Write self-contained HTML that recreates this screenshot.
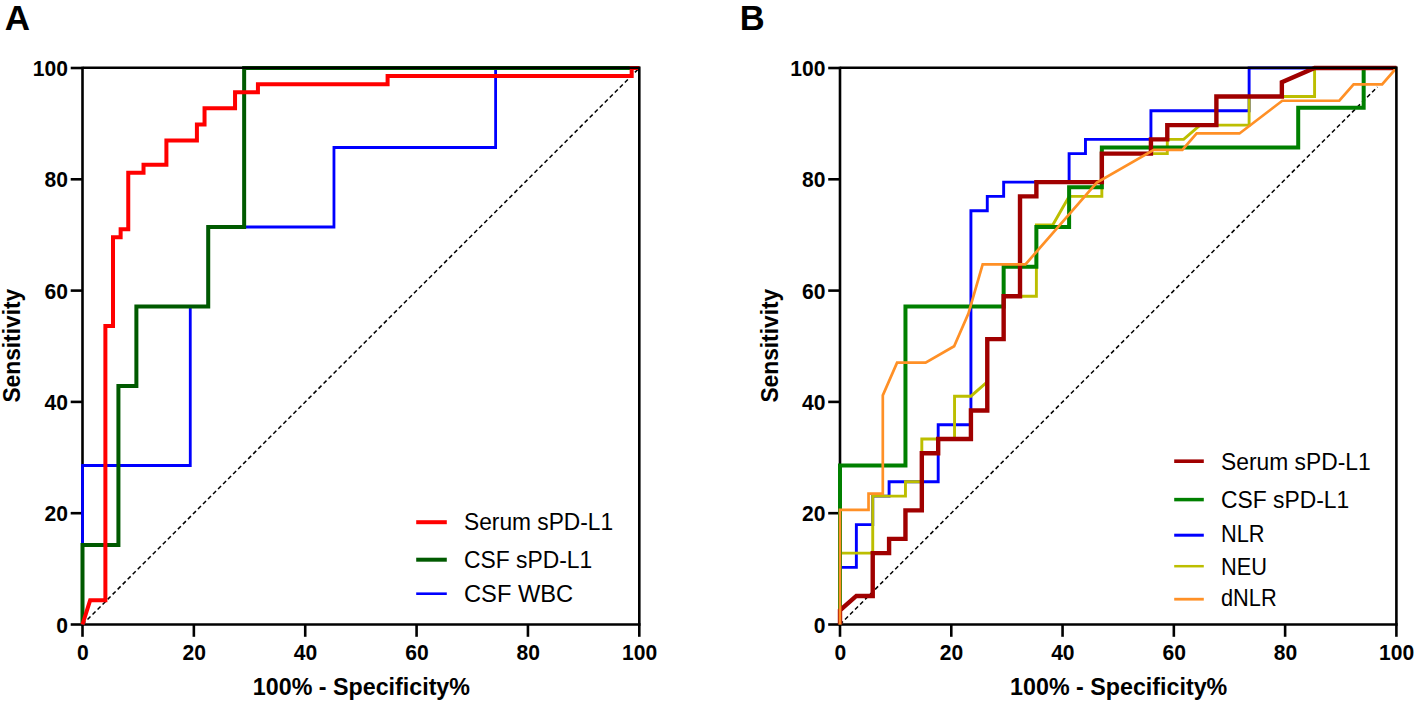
<!DOCTYPE html>
<html><head><meta charset="utf-8"><title>ROC curves</title>
<style>
html,body{margin:0;padding:0;background:#fff;}
body{width:1417px;height:704px;overflow:hidden;}
svg{display:block;}
text{font-family:"Liberation Sans", sans-serif;fill:#000;}
</style></head>
<body>
<svg width="1417" height="704" viewBox="0 0 1417 704">
<rect width="1417" height="704" fill="#fff"/>
<text x="4.8" y="29.8" font-weight="bold" font-size="35">A</text>
<text x="739.8" y="29.8" font-weight="bold" font-size="34.5">B</text>
<path d="M82.5,66.70V624.5H640.60" fill="none" stroke="#000" stroke-width="2.6"/>
<path d="M70.70,624.50H82.5" stroke="#000" stroke-width="2.6"/>
<path d="M82.50,624.5V636.80" stroke="#000" stroke-width="2.6"/>
<path d="M70.70,513.20H82.5" stroke="#000" stroke-width="2.6"/>
<path d="M193.86,624.5V636.80" stroke="#000" stroke-width="2.6"/>
<path d="M70.70,401.90H82.5" stroke="#000" stroke-width="2.6"/>
<path d="M305.22,624.5V636.80" stroke="#000" stroke-width="2.6"/>
<path d="M70.70,290.60H82.5" stroke="#000" stroke-width="2.6"/>
<path d="M416.58,624.5V636.80" stroke="#000" stroke-width="2.6"/>
<path d="M70.70,179.30H82.5" stroke="#000" stroke-width="2.6"/>
<path d="M527.94,624.5V636.80" stroke="#000" stroke-width="2.6"/>
<path d="M70.70,68.00H82.5" stroke="#000" stroke-width="2.6"/>
<path d="M639.30,624.5V636.80" stroke="#000" stroke-width="2.6"/>
<path d="M82.50,624.50L639.30,68.00" stroke="#000" stroke-width="1.5" stroke-dasharray="4.2,2.9" fill="none"/>
<path d="M82.50,624.50L82.50,465.50L190.27,465.50L190.27,306.50L208.23,306.50L208.23,227.00L333.96,227.00L333.96,147.50L495.61,147.50L495.61,68.00L639.30,68.00" fill="none" stroke="#0000ff" stroke-width="2.8" stroke-linejoin="miter" stroke-linecap="butt"/>
<path d="M82.50,624.50L82.50,545.00L118.42,545.00L118.42,386.00L136.38,386.00L136.38,306.50L208.23,306.50L208.23,227.00L244.15,227.00L244.15,68.00L639.30,68.00" fill="none" stroke="#005a00" stroke-width="4" stroke-linejoin="miter" stroke-linecap="butt"/>
<path d="M82.50,624.50L90.13,600.30L105.38,600.30L105.38,326.09L113.01,326.09L113.01,237.37L120.64,237.37L120.64,229.30L128.26,229.30L128.26,172.85L143.52,172.85L143.52,164.78L166.40,164.78L166.40,140.59L196.91,140.59L196.91,124.46L204.54,124.46L204.54,108.33L235.05,108.33L235.05,92.20L257.93,92.20L257.93,84.13L387.60,84.13L387.60,76.07L631.67,76.07L631.67,68.00L639.30,68.00" fill="none" stroke="#ff0000" stroke-width="4.0" stroke-linejoin="miter" stroke-linecap="butt"/>
<path d="M82.5,67.70H640.60M639.30,67.70V624.5" fill="none" stroke="#000" stroke-width="2.6"/>
<text transform="translate(68.00,632.60) scale(0.98,1.04)" text-anchor="end" font-weight="bold" font-size="21.5">0</text>
<text transform="translate(68.00,521.30) scale(0.98,1.04)" text-anchor="end" font-weight="bold" font-size="21.5">20</text>
<text transform="translate(68.00,410.00) scale(0.98,1.04)" text-anchor="end" font-weight="bold" font-size="21.5">40</text>
<text transform="translate(68.00,298.70) scale(0.98,1.04)" text-anchor="end" font-weight="bold" font-size="21.5">60</text>
<text transform="translate(68.00,187.40) scale(0.98,1.04)" text-anchor="end" font-weight="bold" font-size="21.5">80</text>
<text transform="translate(68.00,76.10) scale(0.98,1.04)" text-anchor="end" font-weight="bold" font-size="21.5">100</text>
<text transform="translate(82.80,660.40) scale(0.98,1.04)" text-anchor="middle" font-weight="bold" font-size="21.5">0</text>
<text transform="translate(194.16,660.40) scale(0.98,1.04)" text-anchor="middle" font-weight="bold" font-size="21.5">20</text>
<text transform="translate(305.52,660.40) scale(0.98,1.04)" text-anchor="middle" font-weight="bold" font-size="21.5">40</text>
<text transform="translate(416.88,660.40) scale(0.98,1.04)" text-anchor="middle" font-weight="bold" font-size="21.5">60</text>
<text transform="translate(528.24,660.40) scale(0.98,1.04)" text-anchor="middle" font-weight="bold" font-size="21.5">80</text>
<text transform="translate(639.60,660.40) scale(0.98,1.04)" text-anchor="middle" font-weight="bold" font-size="21.5">100</text>
<text transform="translate(361.40,694.70) scale(0.99,1.0)" text-anchor="middle" font-weight="bold" font-size="23.5">100% - Specificity%</text>
<text transform="translate(20.30,345.70) rotate(-90) scale(0.99,1.0)" text-anchor="middle" font-weight="bold" font-size="23">Sensitivity</text>
<path d="M416.2,522.2H446.8" stroke="#ff0000" stroke-width="4.0"/>
<text transform="translate(464.00,530.30) scale(0.998,1.08)" font-size="22.8">Serum sPD-L1</text>
<path d="M416.2,559.7H446.8" stroke="#005a00" stroke-width="4"/>
<text transform="translate(464.00,567.80) scale(1.003,1.08)" font-size="22.8">CSF sPD-L1</text>
<path d="M416.2,593.7H446.8" stroke="#0000ff" stroke-width="2.6"/>
<text transform="translate(464.00,601.90) scale(1.039,1.08)" font-size="22.8">CSF WBC</text>
<path d="M840.0,66.70V624.5H1397.70" fill="none" stroke="#000" stroke-width="2.6"/>
<path d="M828.20,624.50H840.0" stroke="#000" stroke-width="2.6"/>
<path d="M840.00,624.5V636.80" stroke="#000" stroke-width="2.6"/>
<path d="M828.20,513.20H840.0" stroke="#000" stroke-width="2.6"/>
<path d="M951.28,624.5V636.80" stroke="#000" stroke-width="2.6"/>
<path d="M828.20,401.90H840.0" stroke="#000" stroke-width="2.6"/>
<path d="M1062.56,624.5V636.80" stroke="#000" stroke-width="2.6"/>
<path d="M828.20,290.60H840.0" stroke="#000" stroke-width="2.6"/>
<path d="M1173.84,624.5V636.80" stroke="#000" stroke-width="2.6"/>
<path d="M828.20,179.30H840.0" stroke="#000" stroke-width="2.6"/>
<path d="M1285.12,624.5V636.80" stroke="#000" stroke-width="2.6"/>
<path d="M828.20,68.00H840.0" stroke="#000" stroke-width="2.6"/>
<path d="M1396.40,624.5V636.80" stroke="#000" stroke-width="2.6"/>
<path d="M840.00,624.50L1377.48,86.92" stroke="#000" stroke-width="1.5" stroke-dasharray="4.2,2.9" fill="none"/>
<path d="M840.00,624.50L840.00,567.42L856.36,567.42L856.36,524.62L872.73,524.62L872.73,496.08L889.09,496.08L889.09,481.81L938.19,481.81L938.19,424.73L970.92,424.73L970.92,210.69L987.28,210.69L987.28,196.42L1003.65,196.42L1003.65,182.15L1069.11,182.15L1069.11,153.62L1085.47,153.62L1085.47,139.35L1150.93,139.35L1150.93,110.81L1249.12,110.81L1249.12,68.00L1396.40,68.00" fill="none" stroke="#0000ff" stroke-width="2.9" stroke-linejoin="miter" stroke-linecap="butt"/>
<path d="M840.00,624.50L840.00,553.15L872.73,553.15L872.73,496.08L905.46,496.08L905.46,481.81L921.82,481.81L921.82,439.00L954.55,439.00L954.55,396.19L970.92,396.19L987.28,381.92L987.28,339.12L1003.65,339.12L1003.65,296.31L1036.38,296.31L1036.38,224.96L1052.74,224.96L1069.11,196.42L1101.84,196.42L1101.84,153.62L1167.29,153.62L1167.29,139.35L1183.66,139.35L1200.02,125.08L1249.12,125.08L1249.12,96.54L1314.58,96.54L1314.58,68.00L1396.40,68.00" fill="none" stroke="#bcbe00" stroke-width="2.9" stroke-linejoin="miter" stroke-linecap="butt"/>
<path d="M840.00,624.50L840.00,465.50L905.46,465.50L905.46,306.50L1003.65,306.50L1003.65,266.75L1036.38,266.75L1036.38,227.00L1069.11,227.00L1069.11,187.25L1101.84,187.25L1101.84,147.50L1298.21,147.50L1298.21,107.75L1363.67,107.75L1363.67,68.00L1396.40,68.00" fill="none" stroke="#008000" stroke-width="4.0" stroke-linejoin="miter" stroke-linecap="butt"/>
<path d="M840.00,624.50L840.00,610.23L856.36,595.96L872.73,595.96L872.73,553.15L889.09,553.15L889.09,538.88L905.46,538.88L905.46,510.35L921.82,510.35L921.82,453.27L938.19,453.27L938.19,439.00L970.92,439.00L970.92,410.46L987.28,410.46L987.28,339.12L1003.65,339.12L1003.65,296.31L1020.01,296.31L1020.01,196.42L1036.38,196.42L1036.38,182.15L1101.84,182.15L1101.84,153.62L1150.93,153.62L1150.93,139.35L1167.29,139.35L1167.29,125.08L1216.39,125.08L1216.39,96.54L1281.85,96.54L1281.85,82.27L1314.58,68.00L1396.40,68.00" fill="none" stroke="#a00000" stroke-width="4.4" stroke-linejoin="miter" stroke-linecap="butt"/>
<path d="M840.00,624.50L840.00,509.93L868.53,509.93L868.53,493.56L882.80,493.56L882.80,395.35L897.07,362.62L925.60,362.62L954.13,346.25L968.40,313.51L982.67,264.41L1025.47,264.41L1096.80,182.57L1153.87,149.84L1182.40,149.84L1196.67,133.47L1239.47,133.47L1282.27,100.74L1339.33,100.74L1353.60,84.37L1382.13,84.37L1396.40,68.00" fill="none" stroke="#ff9026" stroke-width="2.7" stroke-linejoin="miter" stroke-linecap="butt"/>
<path d="M840.0,67.70H1397.70M1396.40,67.70V624.5" fill="none" stroke="#000" stroke-width="2.6"/>
<text transform="translate(825.50,632.60) scale(0.98,1.04)" text-anchor="end" font-weight="bold" font-size="21.5">0</text>
<text transform="translate(825.50,521.30) scale(0.98,1.04)" text-anchor="end" font-weight="bold" font-size="21.5">20</text>
<text transform="translate(825.50,410.00) scale(0.98,1.04)" text-anchor="end" font-weight="bold" font-size="21.5">40</text>
<text transform="translate(825.50,298.70) scale(0.98,1.04)" text-anchor="end" font-weight="bold" font-size="21.5">60</text>
<text transform="translate(825.50,187.40) scale(0.98,1.04)" text-anchor="end" font-weight="bold" font-size="21.5">80</text>
<text transform="translate(825.50,76.10) scale(0.98,1.04)" text-anchor="end" font-weight="bold" font-size="21.5">100</text>
<text transform="translate(840.30,660.40) scale(0.98,1.04)" text-anchor="middle" font-weight="bold" font-size="21.5">0</text>
<text transform="translate(951.58,660.40) scale(0.98,1.04)" text-anchor="middle" font-weight="bold" font-size="21.5">20</text>
<text transform="translate(1062.86,660.40) scale(0.98,1.04)" text-anchor="middle" font-weight="bold" font-size="21.5">40</text>
<text transform="translate(1174.14,660.40) scale(0.98,1.04)" text-anchor="middle" font-weight="bold" font-size="21.5">60</text>
<text transform="translate(1285.42,660.40) scale(0.98,1.04)" text-anchor="middle" font-weight="bold" font-size="21.5">80</text>
<text transform="translate(1396.70,660.40) scale(0.98,1.04)" text-anchor="middle" font-weight="bold" font-size="21.5">100</text>
<text transform="translate(1118.70,694.70) scale(0.99,1.0)" text-anchor="middle" font-weight="bold" font-size="23.5">100% - Specificity%</text>
<text transform="translate(777.80,345.70) rotate(-90) scale(0.99,1.0)" text-anchor="middle" font-weight="bold" font-size="23">Sensitivity</text>
<path d="M1174.2,461.2H1203.8" stroke="#a00000" stroke-width="3.6"/>
<text transform="translate(1221.00,469.60) scale(1.001,1.08)" font-size="22.8">Serum sPD-L1</text>
<path d="M1174.2,499.6H1203.8" stroke="#008000" stroke-width="3.5"/>
<text transform="translate(1221.00,507.50) scale(1.003,1.08)" font-size="22.8">CSF sPD-L1</text>
<path d="M1174.2,535.2H1203.8" stroke="#0000ff" stroke-width="3"/>
<text transform="translate(1221.00,542.10) scale(0.955,1.05)" font-size="22.8">NLR</text>
<path d="M1174.2,566.2H1203.8" stroke="#bcbe00" stroke-width="2.5"/>
<text transform="translate(1221.00,574.50) scale(0.955,1.05)" font-size="22.8">NEU</text>
<path d="M1174.2,599.2H1203.8" stroke="#ff9026" stroke-width="2.8"/>
<text transform="translate(1221.00,606.30) scale(0.955,1.05)" font-size="22.8">dNLR</text>
</svg>
</body></html>
